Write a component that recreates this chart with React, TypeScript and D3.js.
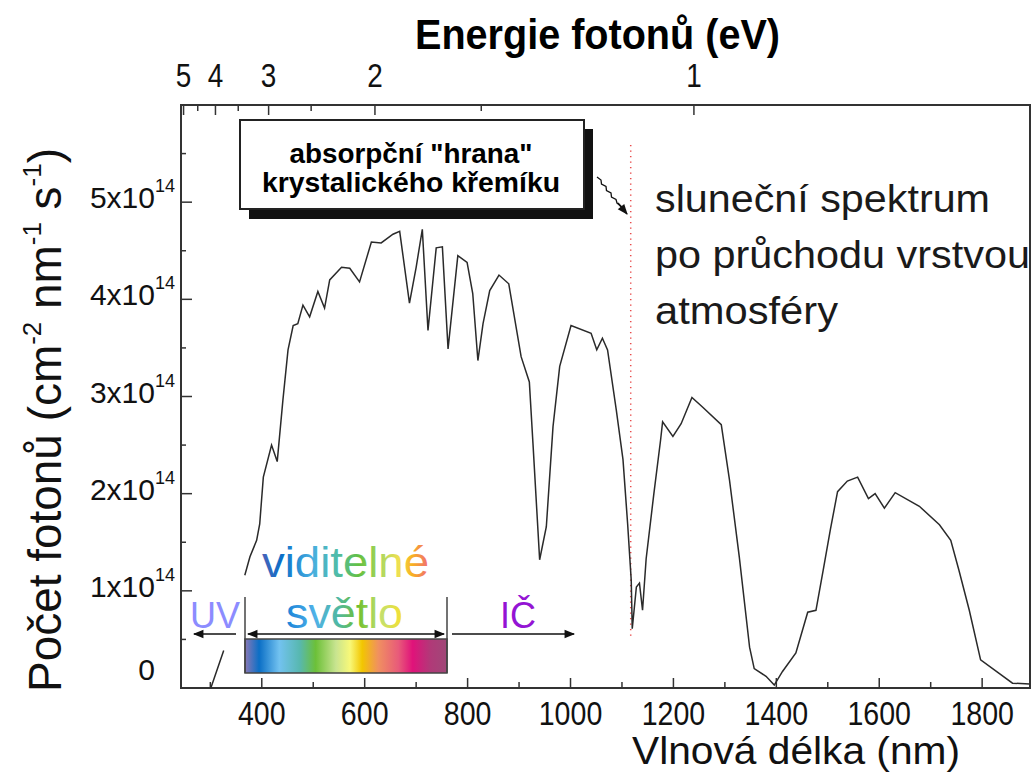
import React, { useEffect, useRef } from "react";
import * as d3 from "d3";

// solar photon flux after the atmosphere (10^14 photons cm^-2 nm^-1 s^-1), NaN = hidden part
const wavelengths = [
  301, 326, 345, 367, 377, 390, 396, 403, 419, 430, 441, 451, 461, 470, 480, 493, 509, 522, 532,
  555, 571, 590, 613, 632, 655, 668, 687, 700, 712, 723, 739, 751, 762, 781, 799, 810, 820, 830,
  843, 861, 880, 904, 920, 927, 940, 953, 966, 979, 1001, 1040, 1051, 1062, 1072, 1089, 1102, 1111,
  1118, 1120, 1128, 1134, 1140, 1147, 1162, 1175, 1179, 1199, 1215, 1236, 1257, 1293, 1309, 1328,
  1348, 1357, 1380, 1396, 1412, 1438, 1461, 1477, 1491, 1505, 1519, 1538, 1558, 1579, 1592, 1610,
  1631, 1678, 1717, 1739, 1755, 1775, 1797, 1833, 1859, 1892
];
const photonFlux = [
  0.0, 0.385, NaN, 1.16, 1.35, 1.52, 1.69, 2.17, 2.5, 2.33, 2.96, 3.48, 3.73, 3.75, 3.94, 3.82, 4.08, 3.91, 4.2,
  4.33, 4.32, 4.18, 4.59, 4.58, 4.67, 4.7, 3.96, 4.33, 4.72, 3.68, 4.53, 4.54, 3.49, 4.45, 4.38, 4.06, 3.37, 3.75,
  4.09, 4.25, 4.16, 3.41, 3.15, 2.52, 1.32, 1.66, 2.69, 3.31, 3.73, 3.65, 3.48, 3.6, 3.48, 2.86, 2.35, 1.69,
  1.11, 0.61, 1.04, 1.08, 0.8, 1.33, 2.0, 2.55, 2.74, 2.59, 2.72, 2.99, 2.89, 2.71, 2.14, 1.35,
  0.42, 0.2, 0.12, 0.03, 0.17, 0.36, 0.78, 0.8, 1.21, 1.63, 2.02, 2.13, 2.17, 1.95, 2.0, 1.85,
  2.01, 1.87, 1.68, 1.52, 1.21, 0.8, 0.29, 0.15, 0.05, 0.04
];

const xMajor = [400, 600, 800, 1000, 1200, 1400, 1600, 1800];
const xMinor = [300, 500, 700, 900, 1100, 1300, 1500, 1700];
const yMajor = [1, 2, 3, 4, 5];
const yMinor = [0.5, 1.5, 2.5, 3.5, 4.5, 5.5];
const energyMajor = [5, 4, 3, 2, 1];
const energyMinor = [4.5, 3.5, 2.5, 1.5];
const siliconEdge = 1117; // nm, 1.11 eV

const spectrumStops = [
  [0, "#8a78b6"], [0.07, "#0b6fc6"], [0.17, "#72c2f0"], [0.27, "#58b8b0"], [0.35, "#6cc038"],
  [0.45, "#c8e490"], [0.52, "#f8f878"], [0.58, "#f2c600"], [0.66, "#f09060"], [0.76, "#e85a7a"],
  [0.83, "#e0127a"], [0.92, "#b03a78"], [1, "#a04878"]
];
const viditelneStops = [
  [0, "#4a62b8"], [0.12, "#0a70c8"], [0.3, "#48aee0"], [0.45, "#50bca8"], [0.58, "#64c040"],
  [0.72, "#b0d860"], [0.82, "#f0e050"], [0.9, "#f8b020"], [1, "#f06a78"]
];
const svetloStops = [
  [0, "#1a82d8"], [0.25, "#50b2e8"], [0.45, "#50b8a0"], [0.62, "#70c030"], [0.8, "#c0e070"], [1, "#f8e030"]
];

const FONT = "'Liberation Sans', Arial, sans-serif";

function App() {
  const svgRef = useRef(null);

  useEffect(() => {
    const svg = d3.select(svgRef.current);
    svg.selectAll("*").remove();

    const x = d3.scaleLinear().domain([243, 1893]).range([181, 1030]);
    const y = d3.scaleLinear().domain([0, 6]).range([688, 105]);
    const [x0, x1] = x.range();
    const [y0, y1] = y.range();

    const defs = svg.append("defs");
    const addGrad = (id, stops) => {
      const g = defs.append("linearGradient").attr("id", id).attr("x1", 0).attr("x2", 1).attr("y1", 0).attr("y2", 0);
      stops.forEach(s => g.append("stop").attr("offset", s[0]).attr("stop-color", s[1]));
      return g;
    };
    addGrad("spec", spectrumStops);
    addGrad("vid", viditelneStops);
    addGrad("svet", svetloStops);
    defs.append("marker").attr("id", "ah").attr("viewBox", "0 0 10 10").attr("refX", 9).attr("refY", 5)
      .attr("markerWidth", 9).attr("markerHeight", 7).attr("orient", "auto-start-reverse")
      .append("path").attr("d", "M0,1 L10,5 L0,9 Z").attr("fill", "#111");

    const squeeze = (t, k) => {
      const w = t.node().getComputedTextLength();
      t.attr("textLength", w * k).attr("lengthAdjust", "spacingAndGlyphs");
    };
    const fitTo = (t, w) => t.attr("textLength", w).attr("lengthAdjust", "spacingAndGlyphs");

    // frame
    svg.append("rect").attr("x", x0).attr("y", y1).attr("width", x1 - x0).attr("height", y0 - y1)
      .attr("fill", "none").attr("stroke", "#333").attr("stroke-width", 2);

    // bottom ticks
    const g = svg.append("g").attr("stroke", "#333").attr("stroke-width", 1.5);
    xMajor.forEach(v => g.append("line").attr("x1", x(v)).attr("x2", x(v)).attr("y1", y0).attr("y2", y0 - 10));
    xMinor.forEach(v => g.append("line").attr("x1", x(v)).attr("x2", x(v)).attr("y1", y0).attr("y2", y0 - 6));
    // left ticks
    yMajor.forEach(v => g.append("line").attr("x1", x0).attr("x2", x0 + 11).attr("y1", y(v)).attr("y2", y(v)));
    yMinor.forEach(v => g.append("line").attr("x1", x0).attr("x2", x0 + 5).attr("y1", y(v)).attr("y2", y(v)));
    // top (energy) ticks
    const ex = e => x(1239.84 / e);
    energyMajor.forEach(e => g.append("line").attr("x1", ex(e)).attr("x2", ex(e)).attr("y1", y1).attr("y2", y1 + 10));
    energyMinor.forEach(e => g.append("line").attr("x1", ex(e)).attr("x2", ex(e)).attr("y1", y1).attr("y2", y1 + 6));

    // tick labels
    xMajor.forEach(v => {
      const t = svg.append("text").attr("x", x(v)).attr("y", 725).attr("text-anchor", "middle")
        .attr("font-family", FONT).attr("font-size", 34).attr("fill", "#111").text(v);
      squeeze(t, 0.84);
    });
    energyMajor.forEach(e => {
      const t = svg.append("text").attr("x", ex(e)).attr("y", 87).attr("text-anchor", "middle")
        .attr("font-family", FONT).attr("font-size", 34).attr("fill", "#111").text(e);
      squeeze(t, 0.82);
    });
    svg.append("text").attr("x", 155).attr("y", y(0) - 8).attr("text-anchor", "end")
      .attr("font-family", FONT).attr("font-size", 30).attr("fill", "#111").text("0");
    yMajor.forEach(v => {
      svg.append("text").attr("x", 155).attr("y", y(v) + 6).attr("text-anchor", "end")
        .attr("font-family", FONT).attr("font-size", 30).attr("fill", "#111").text(`${v}x10`);
      svg.append("text").attr("x", 155).attr("y", y(v) - 10).attr("text-anchor", "start")
        .attr("font-family", FONT).attr("font-size", 18).attr("fill", "#111").text("14");
    });

    // axis titles
    const top = svg.append("text").attr("x", 415).attr("y", 49).attr("font-family", FONT)
      .attr("font-weight", "bold").attr("font-size", 42).attr("fill", "#000").text("Energie fotonů (eV)");
    fitTo(top, 365);
    const bottom = svg.append("text").attr("x", 632).attr("y", 764).attr("font-family", FONT)
      .attr("font-size", 38).attr("fill", "#111").text("Vlnová délka (nm)");
    fitTo(bottom, 328);

    const yt = svg.append("g").attr("transform", "translate(61,420) rotate(-90)");
    const ytext = yt.append("text").attr("text-anchor", "middle").attr("font-family", FONT)
      .attr("font-size", 46).attr("fill", "#111");
    ytext.append("tspan").text("Počet fotonů (cm");
    ytext.append("tspan").attr("font-size", 26).attr("dy", -20).text("-2");
    ytext.append("tspan").attr("dy", 20).text(" nm");
    ytext.append("tspan").attr("font-size", 26).attr("dy", -20).text("-1");
    ytext.append("tspan").attr("dy", 20).text(" s");
    ytext.append("tspan").attr("font-size", 26).attr("dy", -20).text("-1");
    ytext.append("tspan").attr("dy", 20).text(")");
    const yw = ytext.node().getComputedTextLength();
    ytext.attr("transform", `scale(${544 / yw},1)`);

    // silicon edge
    svg.append("line").attr("x1", x(siliconEdge)).attr("x2", x(siliconEdge)).attr("y1", 145).attr("y2", 638)
      .attr("stroke", "#e84a4a").attr("stroke-width", 1.5).attr("stroke-dasharray", "1.2,4.3");

    // spectrum curve
    const pts = wavelengths.map((w, i) => [w, photonFlux[i]]);
    const line = d3.line().defined(d => !isNaN(d[1])).x(d => x(d[0])).y(d => y(d[1]));
    svg.append("path").attr("d", line(pts)).attr("fill", "none").attr("stroke", "#2a2a2a").attr("stroke-width", 1.5);

    // visible band
    const bx0 = 245, bx1 = 447;
    svg.append("rect").attr("x", bx0).attr("y", 639).attr("width", bx1 - bx0).attr("height", 34)
      .attr("fill", "url(#spec)").attr("stroke", "#444").attr("stroke-width", 1.5);
    [bx0, bx1].forEach(v => svg.append("line").attr("x1", v).attr("x2", v).attr("y1", 597).attr("y2", 673)
      .attr("stroke", "#444").attr("stroke-width", 1.5));
    svg.append("line").attr("x1", bx0 + 3).attr("x2", bx1 - 3).attr("y1", 634).attr("y2", 634)
      .attr("stroke", "#111").attr("stroke-width", 1.5)
      .attr("marker-start", "url(#ah)").attr("marker-end", "url(#ah)");
    svg.append("line").attr("x1", 236).attr("x2", 194).attr("y1", 634).attr("y2", 634)
      .attr("stroke", "#111").attr("stroke-width", 1.5).attr("marker-end", "url(#ah)");
    svg.append("line").attr("x1", 452).attr("x2", 574).attr("y1", 634).attr("y2", 634)
      .attr("stroke", "#111").attr("stroke-width", 1.5).attr("marker-end", "url(#ah)");

    const uv = svg.append("text").attr("x", 190).attr("y", 628).attr("font-family", FONT).attr("font-size", 37)
      .attr("fill", "#8c8cff").text("UV");
    fitTo(uv, 50);
    const ic = svg.append("text").attr("x", 500).attr("y", 628).attr("font-family", FONT).attr("font-size", 37)
      .attr("fill", "#9414d4").text("IČ");
    fitTo(ic, 36);
    const vid = svg.append("text").attr("x", 262).attr("y", 577).attr("font-family", FONT).attr("font-size", 42)
      .attr("fill", "url(#vid)").text("viditelné");
    fitTo(vid, 167);
    const sv = svg.append("text").attr("x", 286).attr("y", 628).attr("font-family", FONT).attr("font-size", 42)
      .attr("fill", "url(#svet)").text("světlo");
    fitTo(sv, 117);

    // annotation box
    svg.append("rect").attr("x", 249).attr("y", 129).attr("width", 344).attr("height", 90).attr("fill", "#111");
    svg.append("rect").attr("x", 240).attr("y", 120).attr("width", 344).attr("height", 89)
      .attr("fill", "#fff").attr("stroke", "#222").attr("stroke-width", 2);
    const l1 = svg.append("text").attr("x", 411).attr("y", 163).attr("text-anchor", "middle").attr("font-family", FONT)
      .attr("font-weight", "bold").attr("font-size", 28).attr("fill", "#000").text('absorpční "hrana"');
    fitTo(l1, 243);
    const l2 = svg.append("text").attr("x", 411).attr("y", 192).attr("text-anchor", "middle").attr("font-family", FONT)
      .attr("font-weight", "bold").attr("font-size", 28).attr("fill", "#000").text("krystalického křemíku");
    fitTo(l2, 298);

    // wavy arrow
    svg.append("path")
      .attr("d", "M597,177 L601,180 L601.5,184 L606,186.5 L606.5,190.5 L611,193 L611.5,197 L616,199.5 L617,203 L622,207")
      .attr("fill", "none").attr("stroke", "#111").attr("stroke-width", 1.3);
    svg.append("line").attr("x1", 618).attr("y1", 203).attr("x2", 627).attr("y2", 214)
      .attr("stroke", "#111").attr("stroke-width", 1.5).attr("marker-end", "url(#ah)");

    // right-hand caption
    const cap = ["sluneční spektrum", "po průchodu vrstvou", "atmosféry"];
    const capW = [335, 375, 183];
    cap.forEach((c, i) => {
      const t = svg.append("text").attr("x", 655).attr("y", 212 + i * 56).attr("font-family", FONT)
        .attr("font-size", 38).attr("fill", "#1a1a1a").text(c);
      fitTo(t, capW[i]);
    });
  }, []);

  return (
    <svg ref={svgRef} width={1032} height={773}
      style={{ position: "absolute", left: 0, top: 0, background: "#fff", display: "block" }} />
  );
}

export default App;
